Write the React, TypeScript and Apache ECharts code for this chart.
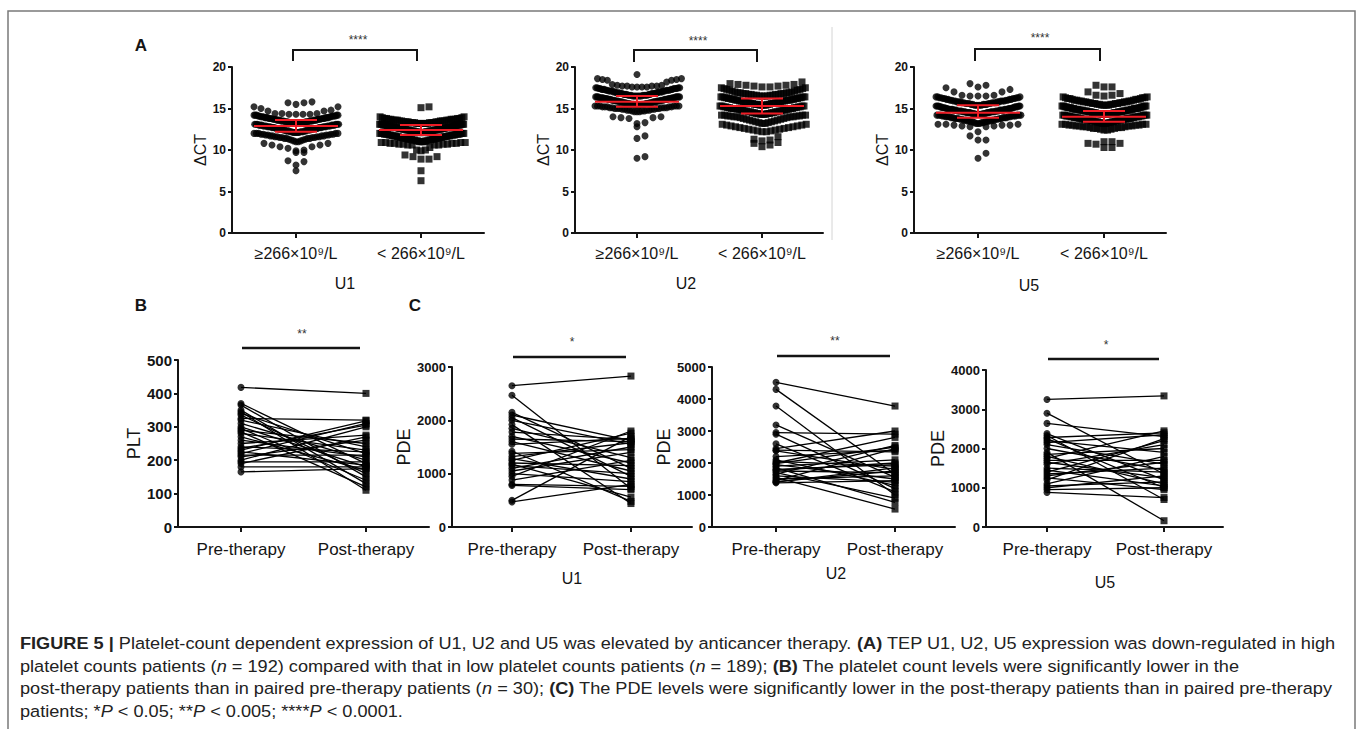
import React, { useEffect, useRef } from "react";
import * as echarts from "echarts";

const FONT = "'Liberation Sans', Arial, Helvetica, sans-serif";

// ---------------- Panel A: ΔCT by platelet count (value, count) ----------------
const aCategories = ["≥266×10⁹/L", "< 266×10⁹/L"];
const aTitles = ["U1", "U2", "U5"];

const u1High: [number, number][] = [
  [15.8, 1], [15.7, 2], [15.5, 1], [15.2, 2], [15.0, 1], [14.8, 1], [14.7, 2],
  [14.4, 3], [14.3, 4], [14.2, 5], [14.1, 5], [14.0, 5], [13.9, 6], [13.8, 6], [13.7, 6], [13.6, 6],
  [13.5, 6], [13.4, 6], [13.3, 6], [13.2, 6], [13.1, 6], [13.0, 6], [12.9, 6], [12.8, 6], [12.7, 6],
  [12.6, 5], [12.5, 5], [12.4, 5], [12.3, 5], [12.2, 5], [12.1, 5], [12.0, 5], [11.9, 4], [11.8, 4],
  [11.7, 4], [11.6, 4], [11.5, 4], [11.4, 4], [11.3, 2], [11.2, 2], [11.1, 2], [11.0, 2],
  [10.8, 2], [10.6, 2], [10.4, 2], [10.2, 1], [10.0, 1], [9.9, 1], [9.7, 2],
  [8.7, 1], [8.6, 1], [8.2, 1], [7.5, 1],
];
const u1Low: [number, number][] = [
  [15.2, 1], [15.1, 1], [14.0, 2], [13.9, 2],
  [13.8, 4], [13.7, 5], [13.6, 5], [13.5, 5], [13.4, 5], [13.3, 6], [13.2, 6], [13.1, 6], [13.0, 6],
  [12.9, 6], [12.8, 6], [12.7, 6], [12.6, 6], [12.5, 6], [12.4, 6], [12.3, 6], [12.2, 6], [12.1, 6],
  [12.0, 6], [11.9, 6], [11.8, 5], [11.7, 5], [11.6, 5], [11.5, 5], [11.4, 5], [11.3, 5], [11.2, 4],
  [11.1, 4], [11.0, 4], [10.9, 4], [10.8, 4], [10.7, 4], [10.6, 4],
  [10.3, 1], [10.0, 2], [9.9, 1], [9.4, 1], [9.2, 2], [8.9, 2], [7.5, 1], [6.3, 1],
];
const u2High: [number, number][] = [
  [19.1, 1], [18.6, 2], [18.5, 2], [18.4, 2], [18.2, 1], [17.9, 1],
  [17.8, 2], [17.7, 4], [17.6, 4], [17.5, 4], [17.4, 5], [17.3, 5], [17.2, 5], [17.1, 5], [17.0, 5],
  [16.9, 5], [16.8, 5], [16.7, 5], [16.6, 7], [16.5, 7], [16.4, 7], [16.3, 7], [16.2, 6], [16.1, 6],
  [16.0, 6], [15.9, 6], [15.8, 6], [15.7, 6], [15.6, 6], [15.5, 6], [15.4, 6], [15.3, 6], [15.2, 5],
  [15.1, 5], [15.0, 5], [14.9, 4], [14.8, 4], [14.7, 3], [14.6, 3],
  [14.0, 2], [13.9, 2], [13.8, 1], [13.3, 1], [13.2, 1], [12.8, 1],
  [11.7, 1], [11.4, 1], [9.2, 1], [9.0, 1],
];
const u2Low: [number, number][] = [
  [18.2, 1], [18.0, 1],
  [17.9, 2], [17.8, 2], [17.7, 2], [17.6, 2], [17.5, 2], [17.4, 2], [17.3, 2], [17.2, 2], [17.1, 2], [17.0, 2],
  [16.9, 4], [16.8, 4], [16.7, 4], [16.6, 4], [16.5, 4], [16.4, 4], [16.3, 4], [16.2, 4], [16.1, 4], [16.0, 5],
  [15.9, 4], [15.8, 4], [15.7, 4], [15.6, 4], [15.5, 5], [15.4, 4], [15.3, 4], [15.2, 4], [15.1, 4], [15.0, 5],
  [14.9, 4], [14.8, 4], [14.7, 4], [14.6, 4], [14.5, 4], [14.4, 4], [14.3, 4], [14.2, 4], [14.1, 4], [14.0, 4],
  [13.9, 2], [13.8, 2], [13.7, 2], [13.6, 2], [13.5, 2], [13.4, 2], [13.3, 2], [13.2, 2], [13.1, 2], [13.0, 2],
  [12.9, 2], [12.8, 2], [12.7, 2], [12.6, 2], [12.5, 2], [12.4, 2], [12.3, 2], [12.2, 2],
  [11.6, 1], [11.3, 1], [11.2, 1], [11.1, 1], [10.9, 1], [10.8, 1], [10.6, 1], [10.4, 1],
];
const u5High: [number, number][] = [
  [18.0, 1], [17.8, 1], [17.6, 1], [17.5, 1], [17.3, 1], [17.0, 2], [16.6, 2],
  [16.5, 3], [16.4, 3], [16.3, 4], [16.2, 4], [16.1, 4], [16.0, 4], [15.9, 5], [15.8, 5], [15.7, 5],
  [15.6, 5], [15.5, 5], [15.4, 5], [15.3, 5], [15.2, 5], [15.1, 5], [15.0, 5], [14.9, 7], [14.8, 7],
  [14.7, 7], [14.6, 7], [14.5, 7], [14.4, 6], [14.3, 6], [14.2, 6], [14.1, 5], [14.0, 5], [13.9, 5],
  [13.8, 5], [13.7, 4], [13.6, 4], [13.5, 4], [13.4, 4], [13.3, 3], [13.2, 3], [13.1, 3], [13.0, 3],
  [12.9, 2], [12.8, 2],
  [12.2, 1], [11.7, 1], [11.2, 2], [9.6, 1], [9.0, 1],
];
const u5Low: [number, number][] = [
  [17.8, 1], [17.6, 2], [17.0, 1], [16.8, 1], [16.6, 2], [16.5, 1],
  [16.4, 2], [16.3, 3], [16.2, 3], [16.1, 3], [16.0, 3], [15.9, 4], [15.8, 4], [15.7, 4], [15.6, 4],
  [15.5, 4], [15.4, 4], [15.3, 4], [15.2, 4], [15.1, 5], [15.0, 5], [14.9, 5], [14.8, 6], [14.7, 6],
  [14.6, 6], [14.5, 6], [14.4, 6], [14.3, 6], [14.2, 5], [14.1, 5], [14.0, 5], [13.9, 5], [13.8, 5],
  [13.7, 5], [13.6, 5], [13.5, 5], [13.4, 4], [13.3, 4], [13.2, 4], [13.1, 4], [13.0, 4], [12.9, 4],
  [12.8, 3], [12.7, 3], [12.6, 3], [12.5, 2], [12.4, 2],
  [11.0, 2], [10.8, 2], [10.7, 1], [10.3, 2],
];
// [median, lower, upper] for each group (high, low)
const u1Summary = [[12.9, 12.2, 13.6], [12.4, 11.8, 13.0]];
const u2Summary = [[15.8, 15.2, 16.5], [15.3, 14.4, 16.2]];
const u5Summary = [[14.5, 13.9, 15.4], [14.0, 13.4, 14.7]];

// ---------------- Panels B & C: paired pre/post therapy ----------------
const pairedCategories = ["Pre-therapy", "Post-therapy"];
const cTitles = ["U1", "U2", "U5"];
const pltPre = [418, 370, 365, 350, 345, 340, 335, 325, 320, 310, 300, 295, 290, 285, 280, 270, 260, 250, 240, 235, 230, 225, 220, 215, 210, 200, 195, 190, 180, 165];
const pltPost = [400, 190, 150, 130, 110, 220, 160, 320, 240, 200, 180, 140, 250, 120, 230, 170, 210, 275, 225, 305, 318, 185, 310, 215, 260, 300, 195, 270, 180, 175];
const pdeU1Pre = [2650, 2470, 2150, 2100, 2050, 2000, 1920, 1850, 1780, 1700, 1650, 1600, 1550, 1420, 1380, 1320, 1280, 1250, 1200, 1180, 1150, 1100, 1050, 1000, 950, 880, 800, 780, 500, 470];
const pdeU1Post = [2830, 720, 1100, 1620, 950, 1550, 440, 1300, 1640, 1200, 1600, 1050, 1660, 480, 1450, 1580, 900, 1760, 1150, 560, 1000, 1500, 1400, 850, 1800, 1250, 760, 700, 1700, 800];
const pdeU2Pre = [4520, 4300, 3780, 3190, 2950, 2900, 2600, 2450, 2400, 2380, 2200, 2100, 2050, 2000, 1980, 1950, 1900, 1850, 1800, 1780, 1750, 1700, 1650, 1600, 1550, 1500, 1450, 1420, 1400, 1380];
const pdeU2Post = [3780, 1650, 1000, 1550, 2900, 1200, 1100, 3000, 2350, 1800, 2400, 1300, 1900, 2800, 2500, 1500, 2100, 770, 1950, 2000, 1700, 900, 2550, 1400, 560, 1600, 2450, 1750, 1850, 1450];
const pdeU5Pre = [3250, 2900, 2640, 2380, 2330, 2280, 2250, 2200, 2150, 2100, 2000, 1900, 1850, 1800, 1750, 1700, 1650, 1600, 1500, 1450, 1400, 1350, 1300, 1250, 1200, 1100, 1050, 1000, 950, 880];
const pdeU5Post = [3340, 1350, 2300, 1200, 700, 2400, 1000, 1900, 2350, 1600, 1450, 160, 2000, 1100, 2450, 1700, 1250, 2100, 1400, 1050, 2200, 1500, 1650, 950, 2250, 1800, 1150, 1300, 1000, 750];

const captionLines = [
  "{b|FIGURE 5 |} Platelet-count dependent expression of U1, U2 and U5 was elevated by anticancer therapy. {b|(A)} TEP U1, U2, U5 expression was down-regulated in high",
  "platelet counts patients ({i|n} = 192) compared with that in low platelet counts patients ({i|n} = 189); {b|(B)} The platelet count levels were significantly lower in the",
  "post-therapy patients than in paired pre-therapy patients ({i|n} = 30); {b|(C)} The PDE levels were significantly lower in the post-therapy patients than in paired pre-therapy",
  "patients; *{i|P} < 0.05; **{i|P} < 0.005; ****{i|P} < 0.0001.",
];

// ---------------- layout ----------------
type G = { left: number; top: number; width: number; height: number; xMin: number; xMax: number; yMax: number; yInt: number; yName: string; nameGap: number; tickFont: number };
const GRIDS: G[] = [
  { left: 232, top: 67, width: 252, height: 166, xMin: 0.488, xMax: 2.504, yMax: 20, yInt: 5, yName: "ΔCT", nameGap: 22, tickFont: 12 },
  { left: 575, top: 67, width: 248, height: 166, xMin: 0.504, xMax: 2.488, yMax: 20, yInt: 5, yName: "ΔCT", nameGap: 24, tickFont: 12 },
  { left: 914, top: 67, width: 252, height: 166, xMin: 0.492, xMax: 2.492, yMax: 20, yInt: 5, yName: "ΔCT", nameGap: 23, tickFont: 12 },
  { left: 178, top: 360, width: 251, height: 167, xMin: 0.496, xMax: 2.504, yMax: 500, yInt: 100, yName: "PLT", nameGap: 26, tickFont: 15 },
  { left: 452, top: 367, width: 240, height: 160, xMin: 0.496, xMax: 2.513, yMax: 3000, yInt: 1000, yName: "PDE", nameGap: 34, tickFont: 13 },
  { left: 712, top: 367, width: 243, height: 160, xMin: 0.462, xMax: 2.504, yMax: 5000, yInt: 1000, yName: "PDE", nameGap: 32, tickFont: 13 },
  { left: 986, top: 370, width: 237, height: 157, xMin: 0.479, xMax: 2.504, yMax: 4000, yInt: 1000, yName: "PDE", nameGap: 31, tickFont: 13 },
];
const INK = "#141414";
const RED = "#ee1c25";

function expand(levels: [number, number][]): number[] {
  const out: number[] = [];
  for (const [v, c] of levels) for (let i = 0; i < c; i++) out.push(v);
  return out;
}

// GraphPad-like column scatter layout: bin by value, spread each bin centre-out
function swarm(values: number[], center: number, unitPx: number): [number, number][] {
  const BIN = 1.1, SPACING = 8, HALF = 42;
  const bins = new Map<number, number[]>();
  values.forEach((v) => {
    const k = Math.floor(v / BIN + 1e-9);
    if (!bins.has(k)) bins.set(k, []);
    bins.get(k)!.push(v);
  });
  const pts: [number, number][] = [];
  bins.forEach((arr) => {
    arr.sort((a, b) => a - b);
    const n = arr.length;
    const step = n > 1 ? Math.min(SPACING, (2 * HALF) / (n - 1)) : 0;
    arr.forEach((v, i) => {
      const k = Math.ceil(i / 2);
      const off = i === 0 ? 0 : (i % 2 === 1 ? 1 : -1) * k * step;
      pts.push([center + off / unitPx, v]);
    });
  });
  return pts;
}

function buildOption() {
  const grid = GRIDS.map((g) => ({ left: g.left, top: g.top, width: g.width, height: g.height, containLabel: false }));
  const xAxis = GRIDS.map((g, i) => {
    const cats = i < 3 ? aCategories : pairedCategories;
    return {
      gridIndex: i, type: "value", min: g.xMin, max: g.xMax,
      axisLine: { show: true, onZero: false, lineStyle: { color: INK, width: 2 } },
      axisTick: { show: true, customValues: [1, 2], length: 5, lineStyle: { color: INK, width: 2 } },
      axisLabel: {
        show: true, customValues: [1, 2], margin: i < 3 ? 12 : 14, color: INK, fontFamily: FONT, fontSize: i < 3 ? 16 : 17,
        formatter: (v: number) => cats[Math.round(v) - 1] ?? "",
      },
      splitLine: { show: false },
    };
  });
  const yAxis = GRIDS.map((g, i) => ({
    gridIndex: i, type: "value", min: 0, max: g.yMax, interval: g.yInt,
    axisLine: { show: true, onZero: false, lineStyle: { color: INK, width: 2 } },
    axisTick: { show: true, length: 4, lineStyle: { color: INK, width: 2 } },
    axisLabel: { color: INK, fontFamily: FONT, fontWeight: "bold", fontSize: g.tickFont, margin: 6, formatter: (v: number) => String(v) },
    splitLine: { show: false },
    name: g.yName, nameLocation: "middle", nameGap: g.nameGap, nameRotate: 90,
    nameTextStyle: { color: INK, fontFamily: FONT, fontSize: i < 3 ? 16 : 18 },
  }));

  const series: any[] = [];
  const aGroups = [[u1High, u1Low], [u2High, u2Low], [u5High, u5Low]];
  const aSums = [u1Summary, u2Summary, u5Summary];
  aGroups.forEach((pair, i) => {
    const g = GRIDS[i];
    const unitPx = g.width / (g.xMax - g.xMin);
    pair.forEach((levels, j) => {
      series.push({
        type: "scatter", xAxisIndex: i, yAxisIndex: i, silent: true, z: 2,
        symbol: j === 0 ? "circle" : "rect", symbolSize: 7,
        itemStyle: { color: "#000" },
        data: swarm(expand(levels), j + 1, unitPx),
      });
    });
    series.push({
      type: "custom", xAxisIndex: i, yAxisIndex: i, silent: true, z: 5,
      data: aSums[i].map((s, j) => [j + 1, s[0], s[1], s[2]]),
      renderItem: (_p: any, api: any) => {
        const x = api.value(0);
        const m = api.coord([x, api.value(1)]);
        const lo = api.coord([x, api.value(2)]);
        const hi = api.coord([x, api.value(3)]);
        const st = { stroke: RED, lineWidth: 2 };
        return {
          type: "group",
          children: [
            { type: "line", shape: { x1: m[0] - 42, y1: m[1], x2: m[0] + 42, y2: m[1] }, style: st },
            { type: "line", shape: { x1: lo[0] - 21, y1: lo[1], x2: lo[0] + 21, y2: lo[1] }, style: st },
            { type: "line", shape: { x1: hi[0] - 21, y1: hi[1], x2: hi[0] + 21, y2: hi[1] }, style: st },
            { type: "line", shape: { x1: hi[0], y1: hi[1], x2: lo[0], y2: lo[1] }, style: st },
          ],
        };
      },
    });
  });

  const paired = [[pltPre, pltPost], [pdeU1Pre, pdeU1Post], [pdeU2Pre, pdeU2Post], [pdeU5Pre, pdeU5Post]];
  paired.forEach(([pre, post], k) => {
    const i = k + 3;
    series.push({
      type: "custom", xAxisIndex: i, yAxisIndex: i, silent: true, z: 2,
      data: pre.map((p, j) => [p, post[j]]),
      renderItem: (_p: any, api: any) => {
        const a = api.coord([1, api.value(0)]);
        const b = api.coord([2, api.value(1)]);
        return { type: "line", shape: { x1: a[0], y1: a[1], x2: b[0], y2: b[1] }, style: { stroke: "#000", lineWidth: 1.3 } };
      },
    });
    series.push({
      type: "scatter", xAxisIndex: i, yAxisIndex: i, silent: true, z: 3, symbol: "circle", symbolSize: 7,
      itemStyle: { color: "#000" }, data: pre.map((p) => [1, p]),
    });
    series.push({
      type: "scatter", xAxisIndex: i, yAxisIndex: i, silent: true, z: 3, symbol: "rect", symbolSize: 7,
      itemStyle: { color: "#000" }, data: post.map((p) => [2, p]),
    });
  });

  const txt = (text: string, x: number, y: number, size: number, extra: any = {}) => ({
    type: "text", x, y, silent: true,
    style: { text, fill: INK, fontFamily: FONT, fontSize: size, align: "center", verticalAlign: "middle", ...extra },
  });
  const bracket = (x1: number, x2: number, yTop: number, yLeg: number) => ({
    type: "polyline", silent: true,
    shape: { points: [[x1, yLeg], [x1, yTop], [x2, yTop], [x2, yLeg]] },
    style: { stroke: INK, lineWidth: 2, fill: "none" },
  });
  const hline = (x1: number, x2: number, y: number) => ({
    type: "line", silent: true, shape: { x1, y1: y, x2, y2: y }, style: { stroke: INK, lineWidth: 2.5 },
  });

  const elements: any[] = [
    { type: "rect", silent: true, shape: { x: 8, y: 11, width: 1347, height: 730 }, style: { fill: "none", stroke: "#7a7a7a", lineWidth: 1.5 } },
    { type: "line", silent: true, shape: { x1: 832, y1: 27, x2: 832, y2: 240 }, style: { stroke: "#d4d4d4", lineWidth: 1 } },
    txt("A", 141, 45, 17, { fontWeight: "bold" }),
    txt("B", 141, 305, 17, { fontWeight: "bold" }),
    txt("C", 415, 305, 17, { fontWeight: "bold" }),
    bracket(293, 417, 50, 61), txt("****", 358, 40, 12, { fill: "#333" }),
    bracket(634, 757, 50, 62), txt("****", 698, 41, 12, { fill: "#333" }),
    bracket(975, 1100, 49, 61), txt("****", 1040, 38, 12, { fill: "#333" }),
    txt(aTitles[0], 345, 283, 16), txt(aTitles[1], 686, 283, 16), txt(aTitles[2], 1029, 285, 16),
    hline(242, 360, 348), txt("**", 302, 334, 12, { fill: "#333" }),
    hline(513, 626, 357), txt("*", 572, 342, 12, { fill: "#333" }),
    hline(777, 890, 356), txt("**", 835, 341, 12, { fill: "#333" }),
    hline(1048, 1159, 359), txt("*", 1106, 345, 12, { fill: "#333" }),
    txt(cTitles[0], 572, 578, 16), txt(cTitles[1], 836, 573, 16), txt(cTitles[2], 1105, 582, 16),
  ];
  const capY = [643, 666, 688, 711];
  captionLines.forEach((line, k) => {
    elements.push({
      type: "text", x: 20, y: capY[k], silent: true, scaleX: 1.1,
      style: {
        text: line, fill: "#222", fontFamily: FONT, fontSize: 16.5, align: "left", verticalAlign: "middle",
        rich: {
          b: { fontWeight: "bold", fontSize: 16.5, fontFamily: FONT, fill: "#222" },
          i: { fontStyle: "italic", fontSize: 16.5, fontFamily: FONT, fill: "#222" },
        },
      },
    });
  });

  return {
    animation: false,
    backgroundColor: "#ffffff",
    grid, xAxis, yAxis, series,
    graphic: { elements },
  };
}

export default function App() {
  const ref = useRef<HTMLDivElement>(null);
  useEffect(() => {
    document.body.style.margin = "0";
    const chart = echarts.init(ref.current!, null, { renderer: "svg" });
    chart.setOption(buildOption() as any);
    return () => chart.dispose();
  }, []);
  return <div ref={ref} style={{ width: 1358, height: 729 }} />;
}
